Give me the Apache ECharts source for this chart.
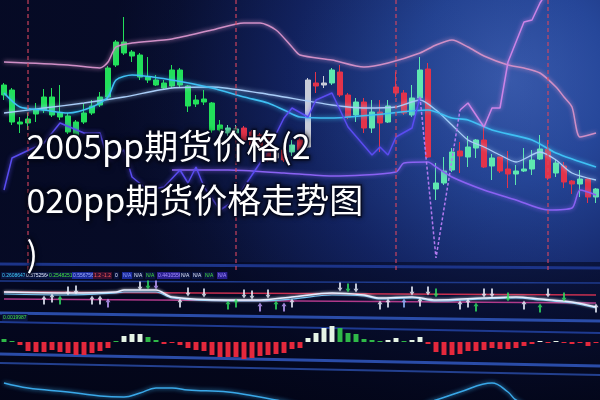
<!DOCTYPE html>
<html><head><meta charset="utf-8">
<script src="https://cdn.jsdelivr.net/npm/echarts/dist/echarts.min.js"></script>
<style>html,body{margin:0;padding:0;background:#080e30}#c{width:600px;height:400px}</style>
</head><body><div id="c"></div>
<script>
// ---------- data ----------
const N = 75;
const categories = Array.from({length: N}, (_, i) => 'D' + (i + 1));
const opens  = [185,180,148,147,156,160,173,157,154,134, 148,157,165,173,205,228,218,215,193,190, 187,184,200,184,166,171,167,145,137,137, 142,138,135,134,112,120,118,130,123,187, 185,187,198,175,155,168,142,158,148,183, 177,155,172,201,81,87,100,119,113,122, 130,104,113,101,96,99,101,111,121,97, 104,89,86,91,73];
const closes = [175,148,146,151,160,173,155,153,138,148, 157,164,173,202,228,217,214,193,190,185, 182,200,185,164,170,168,140,140,142,141, 130,125,122,110,117,110,125,120,190,184, 187,200,175,153,168,142,158,147,164,177, 157,172,200,113,87,99,118,114,123,130, 103,112,99,96,99,101,110,121,92,107, 88,86,91,73,81];
const lows   = [170,145,137,140,148,157,153,150,136,132, 146,155,163,171,203,215,208,190,187,184, 180,182,183,158,163,165,137,135,134,133, 128,123,120,108,107,108,114,116,122,177, 182,185,173,151,148,137,137,118,147,173, 155,153,170,112,70,85,98,97,103,112, 102,90,97,82,85,98,95,110,90,93, 82,76,73,67,67];
const highs  = [187,182,153,157,167,181,182,185,157,150, 167,170,178,204,230,253,220,217,213,195, 190,205,202,185,175,180,168,150,145,145, 144,140,137,136,122,125,130,133,192,198, 194,202,205,177,172,172,170,170,170,198, 180,185,213,207,107,113,122,128,134,131, 142,116,113,119,105,122,120,135,130,110, 108,90,100,92,82];
const greyCandles = [34, 38, 40];
const markDays = [3, 29, 49, 68];

const upperBand = [[0,208],[8,205],[12,202],[13,208],[14,223],[16,227],[21,231],[26,240],[30,247],[32,247],[34,240],[36,223],[37,215],[41,210],[45,203],[48,207],[52,217],[54,225],[56,230],[58,223],[60,214],[63,205],[65,202],[67,197],[69,183],[70,173],[71,163],[72,133],[74,137]];
const maCyan = [[0,177],[2,163],[5,160],[8,157],[11,163],[13,173],[14,190],[16,195],[21,190],[26,182],[30,173],[33,167],[35,160],[37,153],[41,152],[46,155],[53,160],[56,152],[58,150],[61,140],[66,130],[69,117],[74,103]];
const maLight = [[0,157],[5,162],[10,167],[15,173],[21,182],[26,183],[32,177],[41,165],[45,162],[49,163],[52,170],[54,160],[56,145],[58,130],[60,123],[62,115],[64,108],[67,118],[69,110],[71,97],[74,90]];
const jagLine = [[0,80],[1,112],[5,127],[7,147],[10,137],[12,137],[13,110],[15,120],[16,93],[18,80],[20,83],[22,100],[23,87],[24,103],[25,83],[27,60],[29,70],[30,83],[32,107],[33,120],[35,152],[36,162],[38,153],[39,170],[41,177],[43,143],[46,115],[47,123],[48,115],[49,133],[51,142],[52,173]];
const dipLine = [[52,173],[54,12],[57,160]];
const riseLine = [[57,160],[58,167],[60,143],[61,162],[62,162],[63,208],[65,248],[66,250],[67,267],[68,280]];
const lowerBand = [[21,100],[28,100],[35,97],[41,94],[49,98],[50,107],[53,108],[54,103],[56,93],[60,80],[64,70],[68,60],[71,62],[72,80],[74,75]];

const trendLine  = [[0,24],[8,23],[14,24],[15,26],[19,26],[21,19],[28,16],[32,16],[36,19],[41,23],[45,21],[47,18],[51,19],[54,16],[60,18],[64,19],[67,17],[71,14],[74,9]];
const trendLine2 = [[0,22],[8,21],[14,23],[15,24],[19,24],[21,18],[28,15],[32,15],[36,17],[41,21],[45,20],[47,17],[51,18],[54,15],[60,17],[64,18],[67,16],[71,13],[74,8]];
const levelHigh = [[0,24],[74,21]];
const levelLow  = [[0,17],[74,13]];
const arrowUp = [[5,16],[6,18],[7,16],[11,16],[12,16],[13,13],[22,13],[28,11],[29,13],[32,9],[34,11],[35,9],[36,13],[47,11],[48,13],[50,13],[52,14],[57,11],[58,13],[59,9],[65,11],[67,8],[74,8]];
const arrowUpKind = ['w','w','g','w','w','v','w','g','g','v','g','v','w','w','w','b','w','w','w','g','w','g','w'];
const arrowDown = [[17,30],[18,31],[19,31],[42,29],[43,28],[44,28],[54,23],[63,19],[70,19],[8,25],[9,26],[23,24],[25,23],[30,22],[31,21],[33,22],[51,25],[53,25],[60,23],[61,23],[68,23]];
const arrowDownKind = ['w','g','v','w','g','w','g','g','g','w','w','w','w','w','w','w','w','w','w','w','w'];

const macd = [3,1,-3,-9,-10,-10,-8,-10,-11,-13,-13,-11,-9,-6,1,6,8,8,5,2,
  -2,-1,-3,-6,-8,-9,-13,-15,-15,-15,-17,-16,-14,-13,-12,-11,-7,-6,
  4,9,14,16,14,9,8,3,2,1,2,4,1,2,5,
  -2,-10,-13,-13,-12,-9,-9,-8,-6,-7,-7,-6,-4,-2,1,-1,1,-1,-2,-1,-4,-1];
const whiteBars = [15,16,17,38,39,40,41,48,49,51,52,67,69];
const oscLine = [[0,17],[3,12],[8,8],[12,4],[15,3],[17,7],[19,12],[21,12],[23,10],[28,8],[32,3],[34,0],[41,-10],[50,-10],[54,0],[57,8],[61,17],[63,8],[64,0],[67,-10],[74,-10]];

const infoLabels = ['0.2608647','0.5752564','0.2548251','0.5567561','1.2 -1.2','0','N/A','N/A','N/A','0.4410556','N/A','N/A','N/A','N/A'];
const infoLabel2 = '0.0019987';
const titleText = '2005pp期货价格(2\n020pp期货价格走势图\n)';

// ---------- layout / styles ----------
const infoX = [1,25,48,72,93,114,122,133,145,157,180,192,204,217];
const infoColors = ['#40d0ff','#e0e8ff','#40e040','#a0b0ff','#ff5a5a','#e0e8ff','#8fa0ff','#e0e8ff','#40e040','#a890ff','#e0e8ff','#e0e8ff','#40e040','#a890ff'];
const infoBg = ['#0a1440','#0a1440','#0a1440','#1a2a9a','#3a1030','#0a1440','#1a2a9a','#0a1440','#0a1440','#2a2090','#0a1440','#0a1440','#0a1440','#2a2090'];
const kindColor = {w:'#eef2ff', g:'#30e060', v:'#c0a0ff', b:'#90b8ff'};
const arrowPath = 'path://M5,0 L10,5 L7,5 L7,12 L3,12 L3,5 L0,5 Z';

const candleData = categories.map((_, i) => {
  const item = {value: [opens[i], closes[i], lows[i], highs[i]]};
  if (greyCandles.includes(i)) {
    item.itemStyle = {color:'#c8ccd8', color0:'#c8ccd8', borderColor:'#c8ccd8', borderColor0:'#c8ccd8'};
  } else if (i < 28) {
    item.itemStyle = {color:'#22e05a', borderColor:'#22e05a'};
  }
  return item;
});

function glowLine(data, color, width, extra) {
  return Object.assign({
    type: 'line', data, showSymbol: false, symbol: 'none', smooth: 0.25,
    xAxisIndex: 0, yAxisIndex: 0,
    lineStyle: {color, width, shadowBlur: 4, shadowColor: color}
  }, extra || {});
}

const chart = echarts.init(document.getElementById('c'), null, {renderer: 'canvas'});
const axisX = (g) => ({type:'category', gridIndex:g, data:categories, show:false, boundaryGap:true});
chart.setOption({
  animation: false,
  backgroundColor: {type:'radial', x:0.85, y:0.2, r:1.0, colorStops:[
    {offset:0, color:'#3a5cb0'}, {offset:0.25, color:'#26479a'}, {offset:0.55, color:'#142668'}, {offset:0.85, color:'#0a1238'}, {offset:1, color:'#070c2a'}]},
  grid: [
    {left:0, right:0, top:0, height:270},
    {left:0, right:0, top:280, height:36},
    {left:0, right:0, top:325, height:35},
    {left:0, right:0, top:366, height:34}
  ],
  xAxis: [axisX(0), axisX(1), axisX(2), axisX(3)],
  yAxis: [
    {type:'value', gridIndex:0, min:0, max:270, show:false},
    {type:'value', gridIndex:1, min:0, max:36, show:false},
    {type:'value', gridIndex:2, min:-18, max:17, show:false},
    {type:'value', gridIndex:3, min:0, max:34, show:false}
  ],
  graphic: [
    {type:'rect', z:0, silent:true, shape:{x:0, y:0, width:600, height:262},
      style:{fill:{type:'linear', x:0, y:0, x2:1, y2:0, colorStops:[{offset:0,color:'rgba(4,8,30,0.45)'},{offset:0.45,color:'rgba(4,8,30,0.15)'},{offset:1,color:'rgba(4,8,30,0)'}]}}},
    {type:'rect', z:0, silent:true, shape:{x:0, y:262, width:600, height:138},
      style:{fill:{type:'linear', x:0, y:0, x2:0, y2:1, colorStops:[{offset:0,color:'rgba(3,6,28,0.6)'},{offset:1,color:'rgba(2,4,20,0.82)'}]}}},
    {type:'line', z:1, silent:true, shape:{x1:0,y1:264,x2:600,y2:268}, style:{stroke:'#1c3488', lineWidth:3}},
    {type:'line', z:1, silent:true, shape:{x1:0,y1:281,x2:600,y2:283}, style:{stroke:'#1e3a8c', lineWidth:1.5}},
    {type:'line', z:1, silent:true, shape:{x1:0,y1:313,x2:600,y2:321}, style:{stroke:'#2a4ca8', lineWidth:3}},
    {type:'line', z:1, silent:true, shape:{x1:0,y1:322,x2:600,y2:333}, style:{stroke:'#1e3a90', lineWidth:2}},
    {type:'line', z:1, silent:true, shape:{x1:0,y1:354,x2:600,y2:366}, style:{stroke:'#2a4ca8', lineWidth:3}},
    {type:'line', z:1, silent:true, shape:{x1:0,y1:363,x2:600,y2:375}, style:{stroke:'#23408f', lineWidth:2}},
    ...infoLabels.map((t, i) => ({type:'text', z:5, silent:true, x:infoX[i], y:272,
      style:{text:t, fill:infoColors[i], font:'5px "Liberation Sans"', backgroundColor:infoBg[i], padding:[1,1]}})),
    {type:'text', z:5, silent:true, x:2, y:314, style:{text:infoLabel2, fill:'#40e040', font:'5px "Liberation Sans"', backgroundColor:'#0a1440', padding:[1,1]}},
    {type:'text', z:100, silent:true, left:25, top:119,
      style:{text:titleText, fill:'#ffffff', font:'normal 34px "Noto Sans CJK SC"', lineHeight:54,
        stroke:'rgba(8,12,40,0.8)', lineWidth:3, textShadowColor:'rgba(0,0,0,0.7)', textShadowBlur:5}}
  ],
  series: [
    glowLine(upperBand, '#d08fc6', 1.5),
    glowLine(maLight, '#a9cdf8', 1.3),
    glowLine(maCyan, '#3fc0f4', 1.6),
    glowLine(lowerBand, '#8a62f2', 1.5),
    glowLine(jagLine, '#5a4cf0', 1.5, {smooth:false}),
    glowLine(dipLine, '#b47af0', 1.5, {smooth:false, lineStyle:{color:'#b47af0', width:1.5, type:[3,2]}}),
    glowLine(riseLine, '#cc84e6', 1.5, {smooth:false}),
    {
      type:'candlestick', xAxisIndex:0, yAxisIndex:0, data:candleData, barWidth:'62%',
      itemStyle:{color:'#5ee8b0', color0:'#e2334a', borderColor:'#5ee8b0', borderColor0:'#e2334a', borderWidth:1},
      markLine:{silent:true, symbol:['none','none'], label:{show:false},
        lineStyle:{color:'rgba(215,70,95,0.75)', type:[4,3], width:1.5},
        data: markDays.map(d => ({xAxis: categories[d]}))}
    },
    {type:'line', xAxisIndex:1, yAxisIndex:1, data:levelHigh, showSymbol:false, lineStyle:{color:'#c83050', width:1.5}},
    {type:'line', xAxisIndex:1, yAxisIndex:1, data:levelLow, showSymbol:false, lineStyle:{color:'#b03a8a', width:1.5}},
    {type:'line', xAxisIndex:1, yAxisIndex:1, data:trendLine2, showSymbol:false, smooth:0.3, lineStyle:{color:'#5ab8f0', width:1.2}},
    {type:'line', xAxisIndex:1, yAxisIndex:1, data:trendLine, showSymbol:false, smooth:0.3, lineStyle:{color:'#e6eeff', width:1.5, shadowBlur:3, shadowColor:'#ffffff'}},
    {type:'scatter', xAxisIndex:1, yAxisIndex:1, symbol:arrowPath, symbolSize:[5,9], z:4,
      data: arrowUp.map((p, i) => ({value:p, itemStyle:{color:kindColor[arrowUpKind[i]]}}))},
    {type:'scatter', xAxisIndex:1, yAxisIndex:1, symbol:arrowPath, symbolSize:[5,9], symbolRotate:180, z:4,
      data: arrowDown.map((p, i) => ({value:p, itemStyle:{color:kindColor[arrowDownKind[i]]}}))},
    {type:'bar', xAxisIndex:2, yAxisIndex:2, barWidth:'62%',
      data: macd.map((v, i) => ({value:v, itemStyle:{color: v < 0 ? '#e4283c' : (whiteBars.includes(i) ? '#e6f4e6' : '#2fb848')}}))},
    {type:'line', xAxisIndex:3, yAxisIndex:3, data:oscLine, showSymbol:false, smooth:0.4,
      lineStyle:{color:'#3aa8e8', width:1.5, shadowBlur:4, shadowColor:'#3aa8e8'}}
  ]
});
</script></body></html>
